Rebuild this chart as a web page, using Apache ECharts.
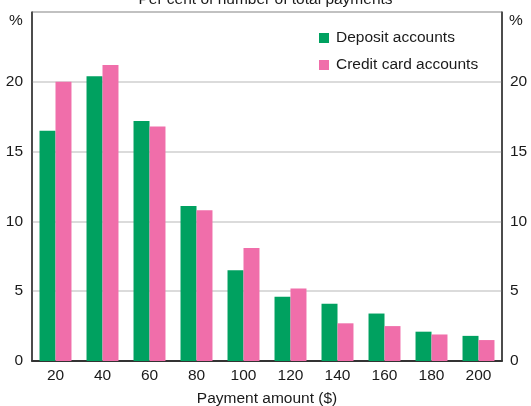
<!DOCTYPE html>
<html>
<head>
<meta charset="utf-8">
<script src="https://cdn.jsdelivr.net/npm/echarts@6/dist/echarts.min.js"></script>
<style>html,body{margin:0;padding:0;background:#fff}#c{width:531px;height:406px}</style>
</head>
<body>
<div id="c"></div>
<script>
const categories = ['20','40','60','80','100','120','140','160','180','200'];
const depositAccounts = [16.5, 20.4, 17.2, 11.1, 6.5, 4.6, 4.1, 3.4, 2.1, 1.8];
const creditCardAccounts = [20.0, 21.2, 16.8, 10.8, 8.1, 5.2, 2.7, 2.5, 1.9, 1.5];
const yTicks = [0, 5, 10, 15, 20, 25];

const font = 'Liberation Sans, Arial, sans-serif';
const txt = '#1a1a1a';
const chart = echarts.init(document.getElementById('c'), null, {renderer: 'canvas'});
const yLabel = v => (v === 25 ? '' : String(v));
chart.setOption({
  animation: false,
  title: {
    text: 'Per cent of number of total payments',
    left: 'center', top: -13,
    textStyle: {fontFamily: font, fontSize: 15.5, fontWeight: 'normal', color: txt}
  },
  legend: {
    data: ['Deposit accounts', 'Credit card accounts'],
    orient: 'vertical', left: 314, top: 25,
    itemWidth: 10, itemHeight: 10, itemGap: 11,
    textStyle: {fontFamily: font, fontSize: 15.5, color: txt, padding: [0, 0, 0, 2]},
    icon: 'rect'
  },
  grid: {left: 32, right: 29, top: 12, bottom: 45, show: true, borderColor: '#333', borderWidth: 1,
         containLabel: false, outerBoundsMode: 'none'},
  xAxis: {
    type: 'category', data: categories,
    name: 'Payment amount ($)', nameLocation: 'middle', nameGap: 30,
    nameTextStyle: {fontFamily: font, fontSize: 15.5, color: txt},
    axisTick: {show: false},
    axisLine: {lineStyle: {color: '#333', width: 2}},
    axisLabel: {fontFamily: font, fontSize: 15.5, color: txt, margin: 7}
  },
  yAxis: [
    {type: 'value', min: yTicks[0], max: yTicks[yTicks.length-1], interval: 5, position: 'left',
     axisLine: {show: true, lineStyle: {color: '#333', width: 1.5}}, axisTick: {show: false},
     splitLine: {lineStyle: {color: '#cfcfcf', width: 1.5}},
     axisLabel: {fontFamily: font, fontSize: 15.5, color: txt, margin: 9, formatter: yLabel}},
    {type: 'value', min: yTicks[0], max: yTicks[yTicks.length-1], interval: 5, position: 'right',
     axisLine: {show: true, lineStyle: {color: '#333', width: 1.5}}, axisTick: {show: false},
     splitLine: {show: false},
     axisLabel: {fontFamily: font, fontSize: 15.5, color: txt, margin: 8, formatter: yLabel}}
  ],
  graphic: [
    {type: 'text', left: 9, top: 13, style: {text: '%', font: '15.5px ' + font, fill: txt}},
    {type: 'text', left: 509, top: 13, style: {text: '%', font: '15.5px ' + font, fill: txt}}
  ],
  series: [
    {name: 'Deposit accounts', type: 'bar', data: depositAccounts, barGap: '0%', barCategoryGap: '32%',
     itemStyle: {color: '#00a160'}},
    {name: 'Credit card accounts', type: 'bar', data: creditCardAccounts,
     itemStyle: {color: '#f06eaa'}}
  ]
});
</script>
</body>
</html>
